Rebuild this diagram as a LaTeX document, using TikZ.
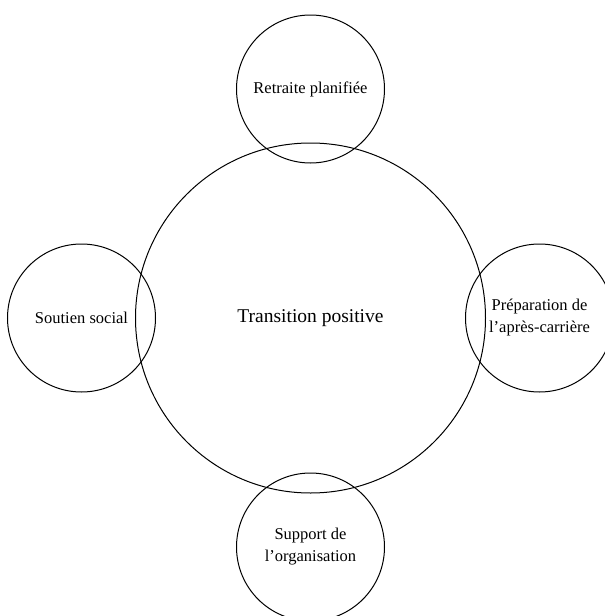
\documentclass[tikz,border=0pt]{standalone}
\usepackage{fontspec}
\setmainfont{Liberation Serif}
\tikzset{
x=1pt,
y=1pt,
node distance=229pt,
bubble/.style={circle, draw, line width=1pt, minimum size=148pt, inner sep=0pt,
  align=center, font=\fontsize{16.5}{22}\selectfont},
}
\begin{document}
\begin{tikzpicture}

    \clip (0,0) rectangle (605,-616);

    \node[bubble, minimum size=350pt, font=\fontsize{19.5}{23}\selectfont] (transition) at (310.5,-318) {Transition positive};
    \node[bubble, above of=transition] (retraite) {Retraite planifiée};
    \node[bubble, left of=transition] (soutien) {Soutien social};
    \node[bubble, right of=transition] (preparation) {Préparation de\\l’après-carrière};
    \node[bubble, below of=transition] (support) {Support de\\l’organisation};

\end{tikzpicture}
\end{document}
